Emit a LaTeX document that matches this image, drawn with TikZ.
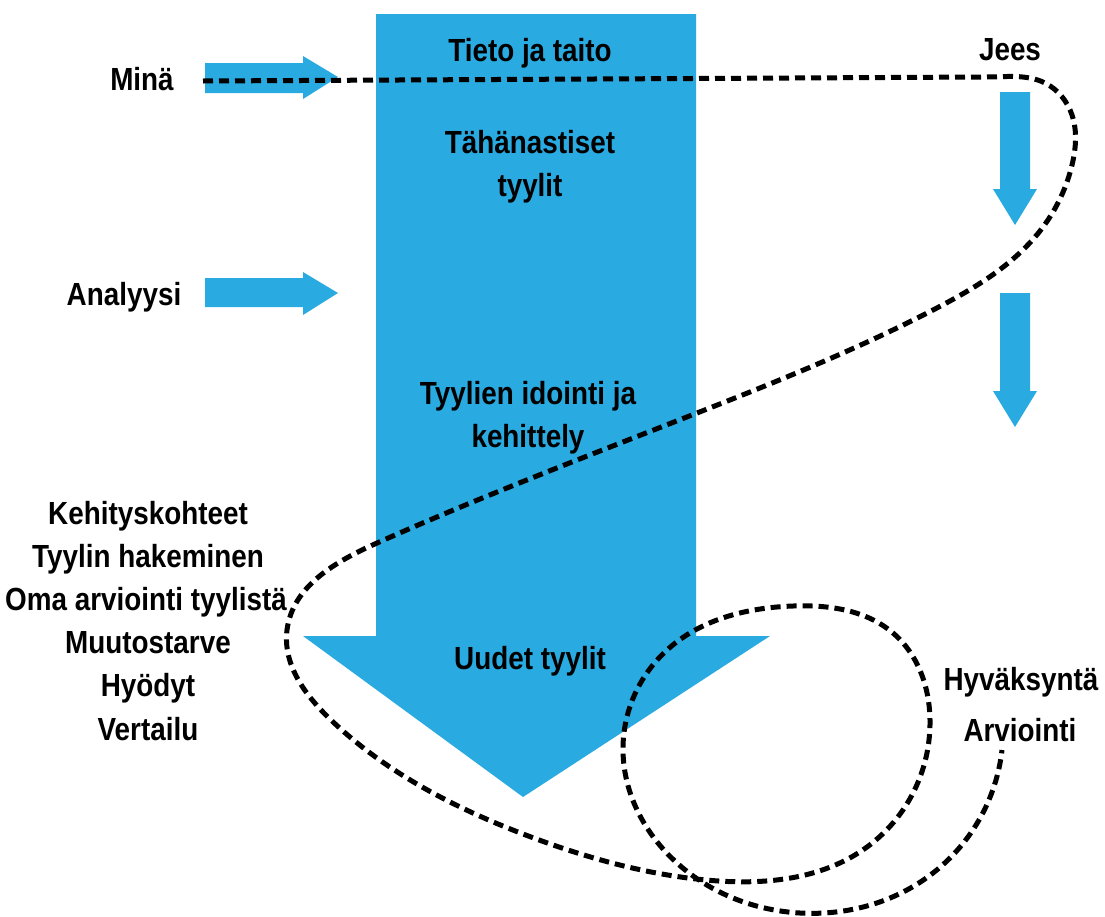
\documentclass[tikz,border=0pt]{standalone}
\usepackage{fontspec}
\usetikzlibrary{hobby}
\setmainfont{Liberation Sans}[FakeStretch=0.87]
\definecolor{arrowblue}{RGB}{41,170,225}
\begin{document}
\begin{tikzpicture}[x=1pt,y=-1pt,
  lbl/.style={font=\bfseries\fontsize{32}{40}\selectfont, inner sep=0pt, anchor=base},
  blue shape/.style={fill=arrowblue, draw=none},
  dline/.style={draw=black, line width=5pt, dash pattern=on 10pt off 6pt}]
\useasboundingbox (0,0) rectangle (1105,916);
% big arrow
\fill[blue shape] (376,14) -- (696,14) -- (696,636) -- (770,636) -- (523,797) -- (303,636) -- (376,636) -- cycle;
% small right arrows
\fill[blue shape] (205,63) -- (303,63) -- (303,56) -- (338,77) -- (303,99) -- (303,93) -- (205,93) -- cycle;
\fill[blue shape] (205,278) -- (303,278) -- (303,272) -- (338,293) -- (303,315) -- (303,307) -- (205,307) -- cycle;
% small down arrows
\fill[blue shape] (1000,92) -- (1030,92) -- (1030,189) -- (1037,189) -- (1015,225) -- (993,189) -- (1000,189) -- cycle;
\fill[blue shape] (1000,293) -- (1030,293) -- (1030,391) -- (1037,391) -- (1015,427) -- (993,391) -- (1000,391) -- cycle;
% dashed path
\coordinate (p0) at (203,81);
\coordinate (pend) at (1002,750);
\draw[dline, use Hobby shortcut] (p0) -- ([out angle=0]985,77) .. (1045,83) .. (1072,115) .. (1072,165)
  .. (1043,227) .. (933,310)
  .. (697,413) .. (377,543) .. (287,630) .. (331,720) .. (531,837) .. (706,880) .. (867,847)
  .. (930,720) .. (893,633) .. (793,606) .. (667,650) .. (623,747) .. (677,863) .. (800,913)
  .. (933,873) .. (pend);
% texts
\node[lbl] (tieto) at (530,61) {Tieto ja taito};
\node[lbl] (tah) at (530,153) {Tähänastiset};
\node[lbl] (tyylit) at (530,196) {tyylit};
\node[lbl] (idointi) at (528,404) {Tyylien idointi ja};
\node[lbl] (kehittely) at (528,447) {kehittely};
\node[lbl] (uudet) at (530,669) {Uudet tyylit};
\node[lbl] (mina) at (142,90) {Minä};
\node[lbl] (analyysi) at (124,305) {Analyysi};
\node[lbl] (jees) at (1010,60) {Jees};
\node[lbl] (l1) at (148,524) {Kehityskohteet};
\node[lbl] (l2) at (148,567) {Tyylin hakeminen};
\node[lbl] (l3) at (146,610) {Oma arviointi tyylistä};
\node[lbl] (l4) at (148,653) {Muutostarve};
\node[lbl] (l5) at (148,696) {Hyödyt};
\node[lbl] (l6) at (148,740) {Vertailu};
\node[lbl] (hyv) at (1021,690) {Hyväksyntä};
\node[lbl] (arv) at (1020,741) {Arviointi};
\end{tikzpicture}
\end{document}
